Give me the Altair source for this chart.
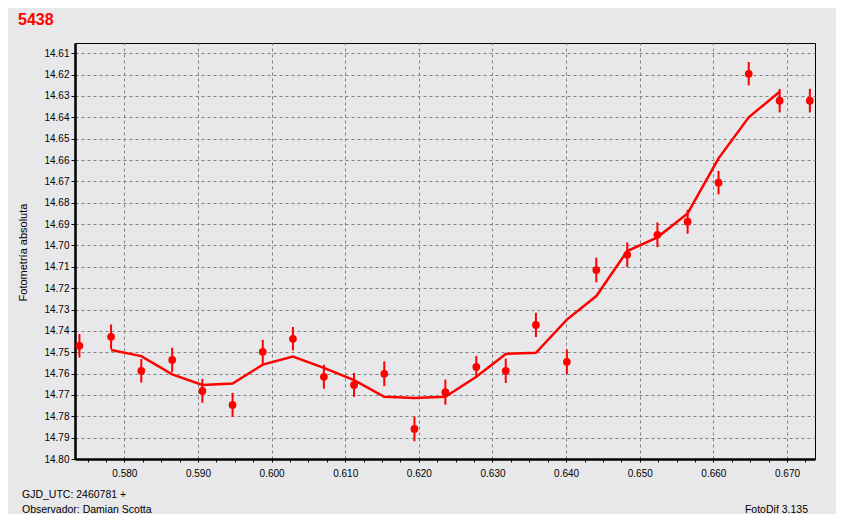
import altair as alt
import pandas as pd

# Observed points
obs_x = [0.5739, 0.5782, 0.5823, 0.5865, 0.5906, 0.5947, 0.5988, 0.6029, 0.6071,
         0.6112, 0.6153, 0.6194, 0.6236, 0.6278, 0.6318, 0.6359, 0.6401, 0.6441,
         0.6483, 0.6524, 0.6565, 0.6607, 0.6648, 0.6690, 0.6731]
obs_y = [14.7470, 14.7428, 14.7587, 14.7536, 14.7681, 14.7747, 14.7498, 14.7437, 14.7615,
         14.7653, 14.7601, 14.7859, 14.7687, 14.7569, 14.7587, 14.7372, 14.7545, 14.7115,
         14.7044, 14.6950, 14.6889, 14.6706, 14.6196, 14.6322, 14.6322]
obs_err = [0.0055, 0.0058, 0.0055, 0.0057, 0.0056, 0.0056, 0.0056, 0.0055, 0.0056,
           0.0056, 0.0058, 0.0058, 0.0059, 0.0052, 0.0057, 0.0057, 0.0058, 0.0058,
           0.0058, 0.0058, 0.0056, 0.0055, 0.0055, 0.0055, 0.0055]

# Model curve
fit_x = [0.5782, 0.5823, 0.5865, 0.5906, 0.5947, 0.5988, 0.6029, 0.6071, 0.6112,
         0.6153, 0.6194, 0.6236, 0.6278, 0.6318, 0.6359, 0.6401, 0.6441, 0.6483,
         0.6524, 0.6565, 0.6607, 0.6648, 0.6690]
fit_y = [14.7490, 14.7518, 14.7604, 14.7653, 14.7647, 14.7558, 14.7520, 14.7573, 14.7631,
         14.7709, 14.7714, 14.7709, 14.7615, 14.7508, 14.7503, 14.7347, 14.7237, 14.7026,
         14.6962, 14.6850, 14.6592, 14.6400, 14.6280]

x_ticks = [round(0.0025 * i, 4) for i in range(230, 270)]
y_ticks = [round(14.61 + 0.01 * i, 2) for i in range(20)]

title_text = "5438"
y_title = "Fotometría absoluta"
footer_left1 = "GJD_UTC: 2460781 +"
footer_left2 = "Observador: Damian Scotta"
footer_right = "FotoDif 3.135"

RED = "#ff0000"
FONT = "Liberation Sans"

obs = pd.DataFrame({"x": obs_x, "y": obs_y,
                    "lo": [a - e for a, e in zip(obs_y, obs_err)],
                    "hi": [a + e for a, e in zip(obs_y, obs_err)]})
fit = pd.DataFrame({"x": fit_x, "y": fit_y})

major_test = "abs(datum.value*100 - round(datum.value*100)) < 0.01"

xscale = alt.Scale(domain=[0.5733, 0.6738], nice=False, zero=False)
yscale = alt.Scale(domain=[14.6052, 14.80], nice=False, zero=False, reverse=True)

xaxis = alt.Axis(values=x_ticks, title=None,
                 labelExpr=f"({major_test}) ? format(datum.value, '.3f') : ''",
                 labelFont=FONT, labelFontSize=10, labelColor="#000000", labelPadding=6,
                 tickSize=3, tickColor="#000000", tickWidth=1,
                 domainColor="#000000", domainWidth=2.5,
                 grid=True, gridColor="#808080", gridDash=[3, 3], gridWidth=1,
                 gridOpacity={"condition": {"test": major_test, "value": 1}, "value": 0},
                 labelFlush=False, labelOverlap=False)
yaxis = alt.Axis(values=y_ticks, format=".2f", title=y_title,
                 labelFont=FONT, labelFontSize=10, labelColor="#000000", labelPadding=2,
                 tickSize=4, tickColor="#000000", domainColor="#000000", domainWidth=2.5,
                 grid=True, gridColor="#808080", gridDash=[3, 3], gridWidth=1,
                 titleFont=FONT, titleFontSize=11, titleFontWeight="normal", titleColor="#000000",
                 titleX=-52, titleY=209, titleAngle=270, titleAlign="center", titleBaseline="middle",
                 labelFlush=False, labelOverlap=False)

X = lambda f: alt.X(f, type="quantitative", scale=xscale, axis=xaxis)
Y = lambda f: alt.Y(f, type="quantitative", scale=yscale, axis=yaxis)

base = alt.Chart(obs)

errs = base.mark_rule(color=RED, strokeWidth=2).encode(
    x=X("x"), y=Y("lo"), y2="hi:Q",
)
pts = base.mark_circle(color=RED, size=60, opacity=1).encode(
    x=X("x"), y=Y("y"),
)
line = alt.Chart(fit).mark_line(color=RED, strokeWidth=2.5).encode(
    x=X("x"), y=Y("y"),
)

one = pd.DataFrame({"t": [0]})
title_mark = alt.Chart(one).mark_text(
    text=title_text, font=FONT, fontSize=16, fontWeight="bold", color=RED,
    align="left", baseline="alphabetic"
).encode(x=alt.value(-57), y=alt.value(-18))
f1 = alt.Chart(one).mark_text(
    text=footer_left1, font=FONT, fontSize=10.5, color="#000000",
    align="left", baseline="alphabetic"
).encode(x=alt.value(-53), y=alt.value(455))
f2 = alt.Chart(one).mark_text(
    text=footer_left2, font=FONT, fontSize=10.5, color="#000000",
    align="left", baseline="alphabetic"
).encode(x=alt.value(-53), y=alt.value(470))
f3 = alt.Chart(one).mark_text(
    text=footer_right, font=FONT, fontSize=10.5, color="#000000",
    align="right", baseline="alphabetic"
).encode(x=alt.value(733), y=alt.value(470))

chart = alt.layer(errs, line, pts, title_mark, f1, f2, f3).properties(
    width=740, height=416,
    autosize=alt.AutoSizeParams(type="none"),
    padding={"left": 67, "top": 35, "right": 21, "bottom": 55},
    background="#e8e8ea",
).configure_view(stroke="#000000", strokeWidth=1, fill="#e8e8ea")

chart.save("out.html", embed_options={"renderer": "svg", "actions": False})
